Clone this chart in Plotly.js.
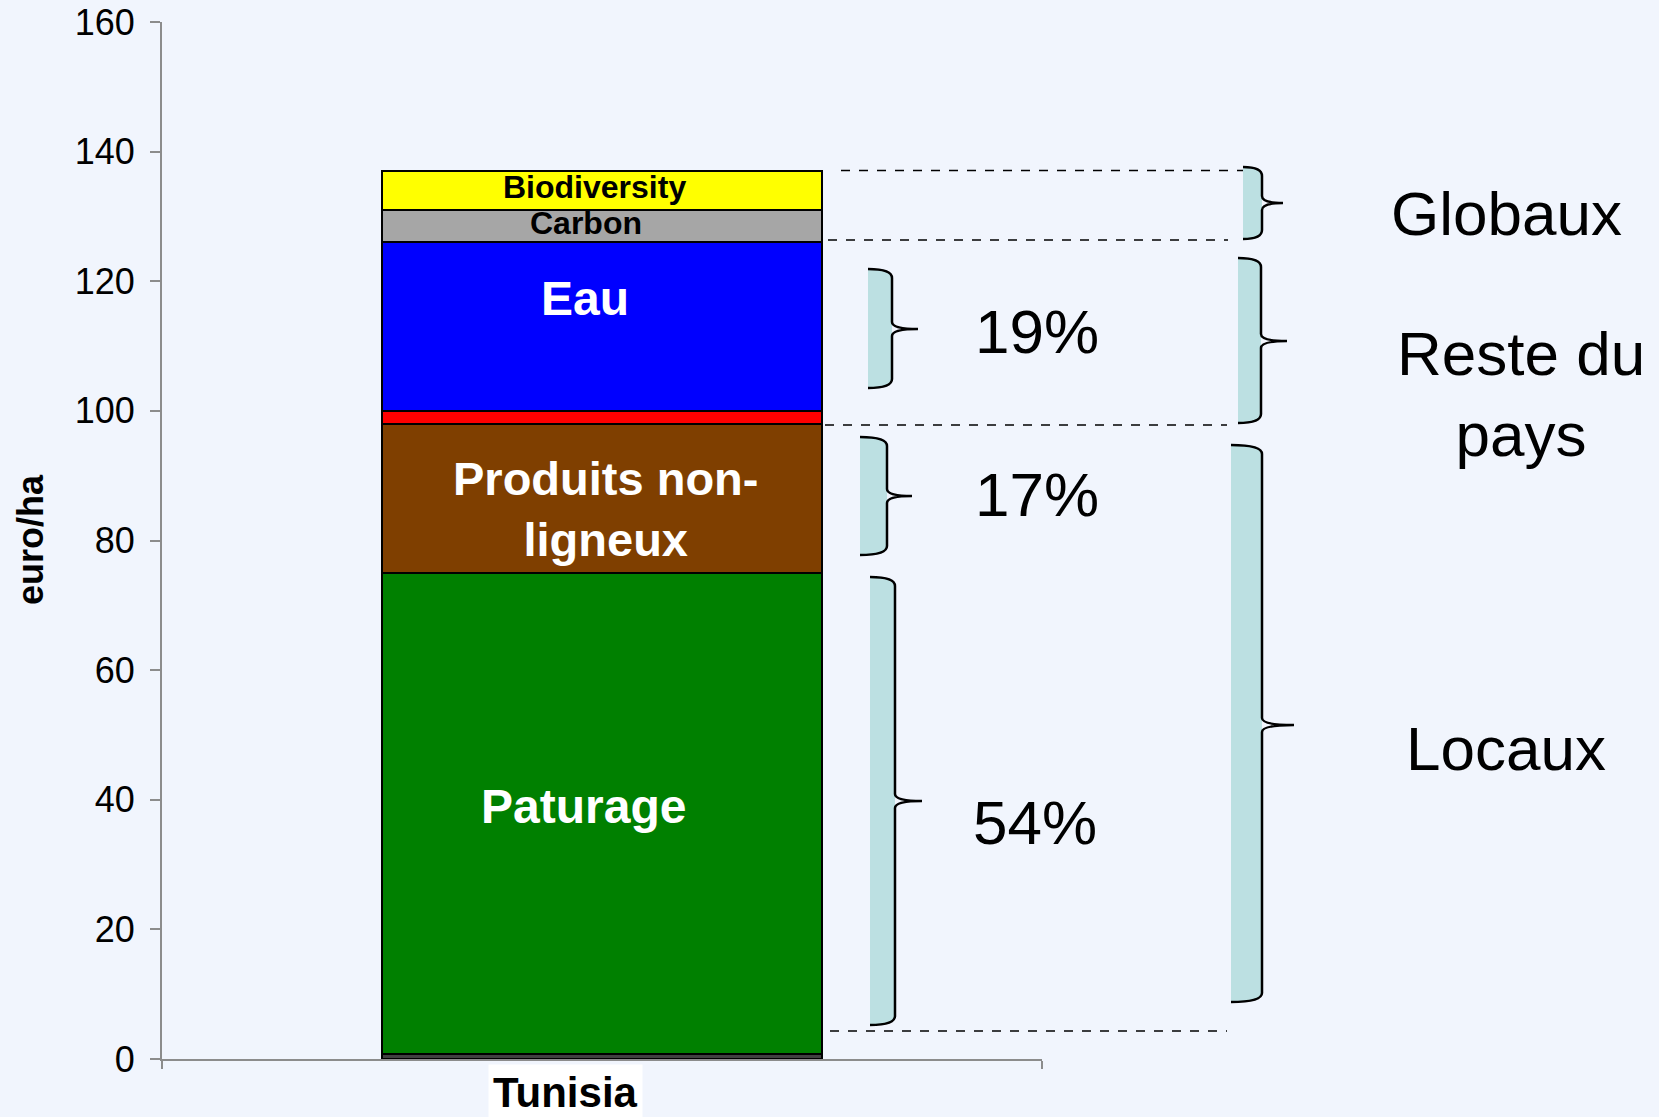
<!DOCTYPE html>
<html><head><meta charset="utf-8">
<script src="https://cdn.plot.ly/plotly-3.0.1.min.js"></script>
<style>html,body{margin:0;padding:0;background:#f1f5fd;} #chart{width:1659px;height:1117px;}</style>
</head><body><div id="chart"></div>
<script>
// ---- data ----
const categories = ['Tunisia'];
const segmentNames = ['Base', 'Paturage', 'Produits non-ligneux', 'Autres', 'Eau', 'Carbon', 'Biodiversity'];
const segmentValues = [0.8, 74.2, 23, 2, 26, 5, 6];
const segmentLabels = ['', 'Paturage', 'Produits non-<br>ligneux', '', 'Eau', 'Carbon', 'Biodiversity'];
const shareLabels = ['19%', '17%', '54%'];
const groupLabels = ['Globaux', 'Reste du<br>pays', 'Locaux'];
const yTickValues = [0, 20, 40, 60, 80, 100, 120, 140, 160];
const yAxisLabel = 'euro/ha';

// ---- styles ----
const segmentColors = ['#404040', '#008000', '#7f3f00', '#ff0000', '#0000ff', '#a6a6a6', '#ffff00'];
const labelStyles = [
  null,
  {size: 48, color: '#ffffff', dx: -19, dy: 7},
  {size: 47, color: '#ffffff', dx: 3, dy: -11},
  null,
  {size: 48, color: '#ffffff', dx: -17, dy: 28},
  {size: 32, color: '#000000', dx: -16, dy: 3},
  {size: 32, color: '#000000', dx: -8, dy: 4}
];
const FONT = 'Liberation Sans, Arial, sans-serif';
const BG = '#f1f5fd';
const BRACE_FILL = '#bce0e2';

// plot area in pixels
const PL = 162, PR = 1042, PT = 22, PB = 1059;
const px = p => (p - PL) / (PR - PL);
const py = p => (PB - p) / (PB - PT);

const traces = segmentNames.map((name, i) => ({
  type: 'bar', name: name, x: categories, y: [segmentValues[i]],
  marker: {color: segmentColors[i], line: {color: '#000000', width: 2}},
  hoverinfo: 'name+y', showlegend: false
}));

const annotations = [];
let cum = 0;
segmentValues.forEach((v, i) => {
  const mid = cum + v / 2;
  cum += v;
  const st = labelStyles[i];
  if (!st || !segmentLabels[i]) return;
  annotations.push({
    x: categories[0], y: mid, xref: 'x', yref: 'y', text: '<b>' + segmentLabels[i] + '</b>',
    showarrow: false, xshift: st.dx, yshift: st.dy, xanchor: 'center', yanchor: 'middle',
    font: {family: FONT, size: st.size, color: st.color}
  });
});

// category label with white box
annotations.push({
  x: categories[0], xref: 'x', y: py(1092), yref: 'paper', xshift: -37,
  xanchor: 'center', yanchor: 'middle',
  text: '<b>' + categories[0] + '</b>', showarrow: false,
  font: {family: FONT, size: 42, color: '#000000'}, bgcolor: '#ffffff', borderpad: 4
});
// y axis label
annotations.push({
  x: px(30), y: py(540), xref: 'paper', yref: 'paper', text: '<b>' + yAxisLabel + '</b>',
  xanchor: 'center', yanchor: 'middle',
  textangle: -90, showarrow: false, font: {family: FONT, size: 36, color: '#000000'}
});
// share labels
const sharePos = [[1037, 331], [1037, 494], [1035, 822]];
shareLabels.forEach((t, i) => annotations.push({
  x: px(sharePos[i][0]), y: py(sharePos[i][1]), xref: 'paper', yref: 'paper', text: t,
  xanchor: 'center', yanchor: 'middle',
  showarrow: false, font: {family: FONT, size: 62, color: '#000000'}
}));
const groupPos = [[1506, 213], [1521, 394], [1506, 748]];
groupLabels.forEach((t, i) => annotations.push({
  x: px(groupPos[i][0]), y: py(groupPos[i][1]), xref: 'paper', yref: 'paper', text: t,
  xanchor: 'center', yanchor: 'middle',
  showarrow: false, font: {family: FONT, size: 62, color: '#000000'}
}));

// shapes: dashed guide lines and braces
const shapes = [];
const dashes = [[841, 1243, 170.5], [828, 1228, 240], [825, 1227, 425], [830, 1227, 1031]];
dashes.forEach(d => shapes.push({
  type: 'line', xref: 'paper', yref: 'paper', x0: px(d[0]), x1: px(d[1]), y0: py(d[2]), y1: py(d[2]),
  line: {color: '#000000', width: 1.5, dash: 'dash'}
}));
function P(x, y) { return px(x).toFixed(5) + ',' + py(y).toFixed(5); }
// [left, right, top, bottom, tipX, tipY]
const braces = [
  [868, 892, 269, 388, 918, 329],
  [860, 887, 437, 555, 912, 496],
  [870, 895, 577, 1025, 922, 801],
  [1243, 1262, 167, 239, 1283, 203],
  [1238, 1261, 258, 423, 1287, 341],
  [1231, 1262, 445, 1002, 1294, 725]
];
braces.forEach(b => {
  const [L, R, T, B, X, Y] = b;
  const c = 9;
  const fill = 'M' + P(L, T) + ' Q' + P(R, T) + ' ' + P(R, T + c) + ' L' + P(R, B - c) +
    ' Q' + P(R, B) + ' ' + P(L, B) + ' Z';
  shapes.push({type: 'path', xref: 'paper', yref: 'paper', path: fill, fillcolor: BRACE_FILL,
    line: {width: 0}, layer: 'above'});
  const br = 'M' + P(L, T) + ' Q' + P(R, T) + ' ' + P(R, T + c) + ' L' + P(R, Y - 7) +
    ' Q' + P(R, Y) + ' ' + P(X, Y) + ' Q' + P(R, Y) + ' ' + P(R, Y + 7) + ' L' + P(R, B - c) +
    ' Q' + P(R, B) + ' ' + P(L, B);
  shapes.push({type: 'path', xref: 'paper', yref: 'paper', path: br,
    line: {color: '#000000', width: 2.5}, layer: 'above'});
});

const layout = {
  width: 1659, height: 1117,
  margin: {l: PL, r: 1659 - PR, t: PT, b: 1117 - PB},
  paper_bgcolor: BG, plot_bgcolor: BG,
  barmode: 'stack', bargap: 0.5,
  showlegend: false,
  font: {family: FONT, color: '#000000'},
  xaxis: {
    type: 'category', showticklabels: false, showgrid: false, zeroline: false,
    showline: true, linecolor: '#8c8c8c', linewidth: 2,
    ticks: 'outside', tickson: 'boundaries', ticklen: 8, tickcolor: '#8c8c8c', tickwidth: 2
  },
  yaxis: {
    range: [0, 160], tickvals: yTickValues, showgrid: false, zeroline: false,
    showline: true, linecolor: '#8c8c8c', linewidth: 2,
    ticks: 'outside', ticklen: 10, tickcolor: '#8c8c8c', tickwidth: 2,
    tickfont: {family: FONT, size: 36, color: '#000000'}, ticklabelstandoff: 8
  },
  annotations: annotations,
  shapes: shapes
};

Plotly.newPlot('chart', traces, layout, {displayModeBar: false, staticPlot: true});
</script></body></html>
